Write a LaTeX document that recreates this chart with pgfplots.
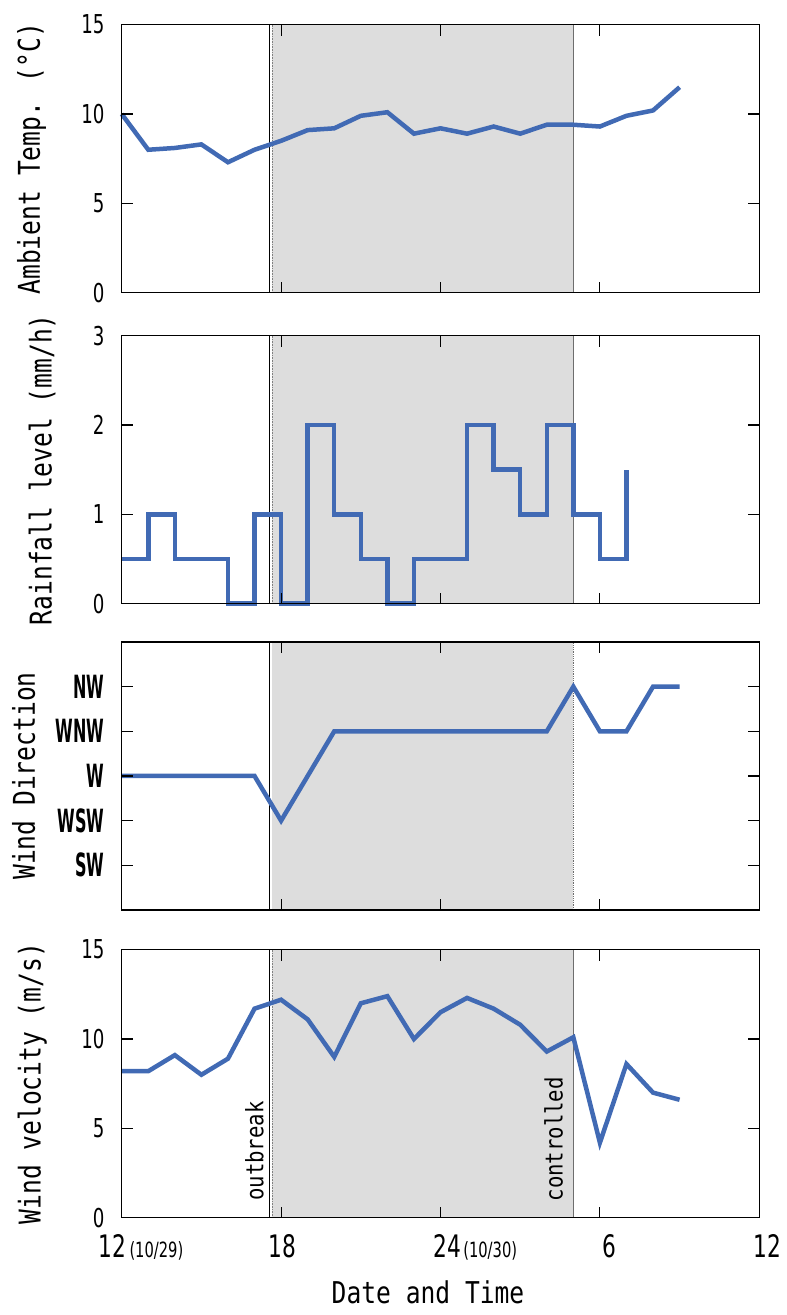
\documentclass[border=0pt]{standalone}
\usepackage{pgfplots}
\pgfplotsset{compat=1.18}
\usepackage{fontspec}
\setmainfont{DejaVu Sans}
\newfontfamily\labfont[FakeStretch=0.82]{DejaVu Sans Mono}
\newfontfamily\annfont[FakeStretch=0.86]{DejaVu Sans Mono}
\newfontfamily\tickfont[FakeStretch=0.70]{DejaVu Sans}
\newfontfamily\dirfont[FakeStretch=0.50]{DejaVu Sans}
\definecolor{lineblue}{RGB}{65,106,180}
\definecolor{shade}{RGB}{221,221,221}
\definecolor{ctrl}{RGB}{110,110,110}

\pgfplotsset{
  panel/.style={
    scale only axis, width=637.6pt, height=268pt,
    xmin=12, xmax=36, xtick={12,18,24,30,36},
    tick align=inside, xtick pos=both, ytick pos=both,
    major tick length=11pt,
    every tick/.style={black, line width=1.1pt},
    axis line style={line width=1.2pt},
    clip=false, axis on top,
    /pgf/number format/assume math mode=true,
    yticklabel style={font=\tickfont\fontsize{26}{26}\selectfont, anchor=east, inner sep=0pt, xshift=-17pt},
    xticklabel style={font=\tickfont\fontsize{31}{31}\selectfont, anchor=north, inner sep=0pt, yshift=-17pt},
    anchor=south west,
  },
  datline/.style={lineblue, line width=4.5pt},
}

\begin{document}
\begin{tikzpicture}
\path[use as bounding box] (0pt,0pt) rectangle (787pt,1315pt);

% ---------- Panel 1: Ambient temperature ----------
\begin{axis}[panel, at={(121.7pt,1022.3pt)},
  ymin=0, ymax=15, ytick={0,5,10,15}, xticklabels={},
  every axis y label/.style={at={(rel axis cs:0,0.5)}, xshift=-81.7pt, rotate=90, anchor=base, font=\labfont\fontsize{30}{30}\selectfont},
  ylabel={Ambient Temp. (°C)}]
\addplot[fill=shade, draw=none, forget plot] coordinates {(17.65,0) (29,0) (29,15) (17.65,15)} -- cycle;
\addplot[black, line width=0.8pt, forget plot] coordinates {(17.55,0) (17.55,15)};
\addplot[gray, densely dotted, line width=0.6pt, forget plot] coordinates {(17.67,0) (17.67,15)};
\addplot[ctrl, line width=1.2pt, forget plot] coordinates {(29,0) (29,15)};
\addplot[datline] coordinates {
(12,10.0)(13,8.0)(14,8.1)(15,8.3)(16,7.3)(17,8.0)(18,8.5)(19,9.1)(20,9.2)(21,9.9)(22,10.1)
(23,8.9)(24,9.2)(25,8.9)(26,9.3)(27,8.9)(28,9.4)(29,9.4)(30,9.3)(31,9.9)(32,10.2)(33,11.5)};
\end{axis}

% ---------- Panel 2: Rainfall ----------
\begin{axis}[panel, at={(121.7pt,711.3pt)},
  ymin=0, ymax=3, ytick={0,1,2,3}, xticklabels={},
  every axis y label/.style={at={(rel axis cs:0,0.5)}, xshift=-70pt, rotate=90, anchor=base, font=\labfont\fontsize{30}{30}\selectfont},
  ylabel={Rainfall level (mm/h)}]
\addplot[fill=shade, draw=none, forget plot] coordinates {(17.65,0) (29,0) (29,3) (17.65,3)} -- cycle;
\addplot[black, line width=0.8pt, forget plot] coordinates {(17.55,0) (17.55,3)};
\addplot[gray, densely dotted, line width=0.6pt, forget plot] coordinates {(17.67,0) (17.67,3)};
\addplot[ctrl, line width=1.2pt, forget plot] coordinates {(29,0) (29,3)};
\addplot[datline, const plot] coordinates {
(12,0.5)(13,1)(14,0.5)(15,0.5)(16,0)(17,1)(18,0)(19,2)(20,1)(21,0.5)(22,0)
(23,0.5)(24,0.5)(25,2)(26,1.5)(27,1)(28,2)(29,1)(30,0.5)(31,1.5)};
\end{axis}

% ---------- Panel 3: Wind direction ----------
\begin{axis}[panel, at={(121.7pt,405pt)},
  ymin=0, ymax=6, ytick={1,2,3,4,5}, yticklabels={SW,WSW,W,WNW,NW},
  yticklabel style={font=\dirfont\bfseries\fontsize{32}{32}\selectfont},
  xticklabels={},
  every axis y label/.style={at={(rel axis cs:0,0.5)}, xshift=-86.7pt, rotate=90, anchor=base, font=\labfont\fontsize{30}{30}\selectfont},
  ylabel={Wind Direction}]
\addplot[fill=shade, draw=none, forget plot] coordinates {(17.65,0) (29,0) (29,6) (17.65,6)} -- cycle;
\addplot[black, line width=0.8pt, forget plot] coordinates {(17.55,0) (17.55,6)};
\addplot[ctrl, densely dotted, line width=1.2pt, forget plot] coordinates {(29,0) (29,6)};
\addplot[datline] coordinates {
(12,3)(13,3)(14,3)(15,3)(16,3)(17,3)(18,2)(19,3)(20,4)(21,4)(22,4)(23,4)
(24,4)(25,4)(26,4)(27,4)(28,4)(29,5)(30,4)(31,4)(32,5)(33,5)};
\end{axis}

% ---------- Panel 4: Wind velocity ----------
\begin{axis}[panel, at={(121.7pt,97.3pt)},
  ymin=0, ymax=15, ytick={0,5,10,15},
  xticklabels={{12\rlap{\hspace{3pt}\fontsize{21}{21}\selectfont(10/29)}\hspace*{18pt}},
               {\hspace*{2pt}18},
               {\hspace*{14pt}24\rlap{\hspace{2pt}\fontsize{21}{21}\selectfont(10/30)}},
               {\hspace*{18pt}6},
               {\hspace*{16pt}12}},
  every axis y label/.style={at={(rel axis cs:0,0.5)}, xshift=-81pt, rotate=90, anchor=base, font=\labfont\fontsize{30}{30}\selectfont},
  ylabel={Wind velocity (m/s)},
  every axis x label/.style={at={(rel axis cs:0.5,0)}, xshift=-12.5pt, yshift=-85.6pt, anchor=base, font=\labfont\fontsize{30}{30}\selectfont},
  xlabel={Date and Time}]
\addplot[fill=shade, draw=none, forget plot] coordinates {(17.65,0) (29,0) (29,15) (17.65,15)} -- cycle;
\addplot[black, line width=0.8pt, forget plot] coordinates {(17.55,0) (17.55,15)};
\addplot[gray, densely dotted, line width=0.6pt, forget plot] coordinates {(17.67,0) (17.67,15)};
\addplot[ctrl, line width=1.2pt, forget plot] coordinates {(29,0) (29,15)};
\addplot[datline] coordinates {
(12,8.2)(13,8.2)(14,9.1)(15,8.0)(16,8.9)(17,11.7)(18,12.2)(19,11.1)(20,9.0)(21,12.0)(22,12.4)
(23,10.0)(24,11.5)(25,12.3)(26,11.7)(27,10.8)(28,9.3)(29,10.1)(30,4.2)(31,8.6)(32,7.0)(33,6.6)};
\node[rotate=90, anchor=base west, inner sep=0pt, font=\annfont\fontsize{24}{24}\selectfont] at (axis cs:17.33,0.94) {outbreak};
\node[rotate=90, anchor=base west, inner sep=0pt, font=\annfont\fontsize{24}{24}\selectfont] at (axis cs:28.6,0.9) {controlled};
\end{axis}
\end{tikzpicture}
\end{document}
